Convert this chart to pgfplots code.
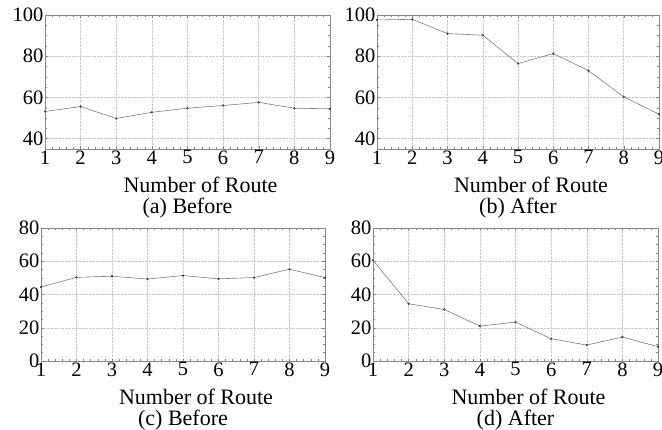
\documentclass[border=0pt]{standalone}
\usepackage{fontspec}
\setmainfont{Liberation Serif}
\usepackage{pgfplots}
\pgfplotsset{compat=1.18}
\definecolor{linec}{RGB}{125,125,125}
\definecolor{framec}{RGB}{135,135,135}
\definecolor{gridc}{RGB}{200,200,200}
\pgfplotsset{
  panel/.style={
    scale only axis,
    anchor=north west,
    xmin=1, xmax=9,
    xtick={1,...,9},
    minor x tick num=4,
    minor y tick num=3,
    grid=major,
    major grid style={gridc, densely dotted, line width=0.5pt},
    axis line style={framec, line width=0.6pt},
    every tick/.style={framec, line width=0.4pt},
    major tick length=2.5pt,
    minor tick length=2pt,
    tick label style={font=\fontsize{20.5}{20}\selectfont, text=black},
    /pgf/number format/assume math mode=true,
    xticklabel style={yshift=2pt},
    yticklabel style={xshift=2pt},
    xlabel style={font=\fontsize{22}{21}\selectfont, align=center,
      at={(axis description cs:0.5,0)}, anchor=north, yshift=-24pt, xshift=13pt},
  },
  myline/.style={linec, line width=0.6pt, mark=*, mark size=0.8pt, mark options={fill=darkgray, draw=darkgray}},
}
\begin{document}
\begin{tikzpicture}
\useasboundingbox (0pt,0pt) rectangle (662pt,-429pt);
% (a)
\begin{axis}[panel, at={(45pt,-15pt)}, width=285pt, height=134pt,
  ymin=35, ymax=100, ytick={40,60,80,100},
  xlabel={Number of Route\\\hspace*{-26pt}(a) Before}]
\addplot[myline] coordinates {(1,53.2) (2,55.6) (3,49.8) (4,52.8) (5,54.8) (6,56.1) (7,57.6) (8,54.8) (9,54.5)};
\end{axis}
% (b)
\begin{axis}[panel, at={(377pt,-15pt)}, width=282pt, height=134pt,
  ymin=35, ymax=100, ytick={40,60,80,100},
  xlabel={Number of Route\\\hspace*{-26pt}(b) After}]
\addplot[myline] coordinates {(1,97.6) (2,97.9) (3,91.0) (4,90.2) (5,76.4) (6,81.3) (7,73.0) (8,60.3) (9,51.9)};
\end{axis}
% (c)
\begin{axis}[panel, at={(41pt,-228pt)}, width=284pt, height=133pt,
  ymin=0, ymax=80, ytick={0,20,40,60,80},
  xlabel={Number of Route\\\hspace*{-26pt}(c) Before}]
\addplot[myline] coordinates {(1,44.5) (2,50.3) (3,51.0) (4,49.3) (5,51.4) (6,49.4) (7,50.2) (8,55.2) (9,50.2)};
\end{axis}
% (d)
\begin{axis}[panel, at={(373pt,-228pt)}, width=285pt, height=133pt,
  ymin=0, ymax=80, ytick={0,20,40,60,80},
  xlabel={Number of Route\\\hspace*{-26pt}(d) After}]
\addplot[myline] coordinates {(1,60.6) (2,34.4) (3,31.0) (4,21.0) (5,23.4) (6,13.4) (7,9.6) (8,14.4) (9,8.6)};
\end{axis}
\end{tikzpicture}
\end{document}
